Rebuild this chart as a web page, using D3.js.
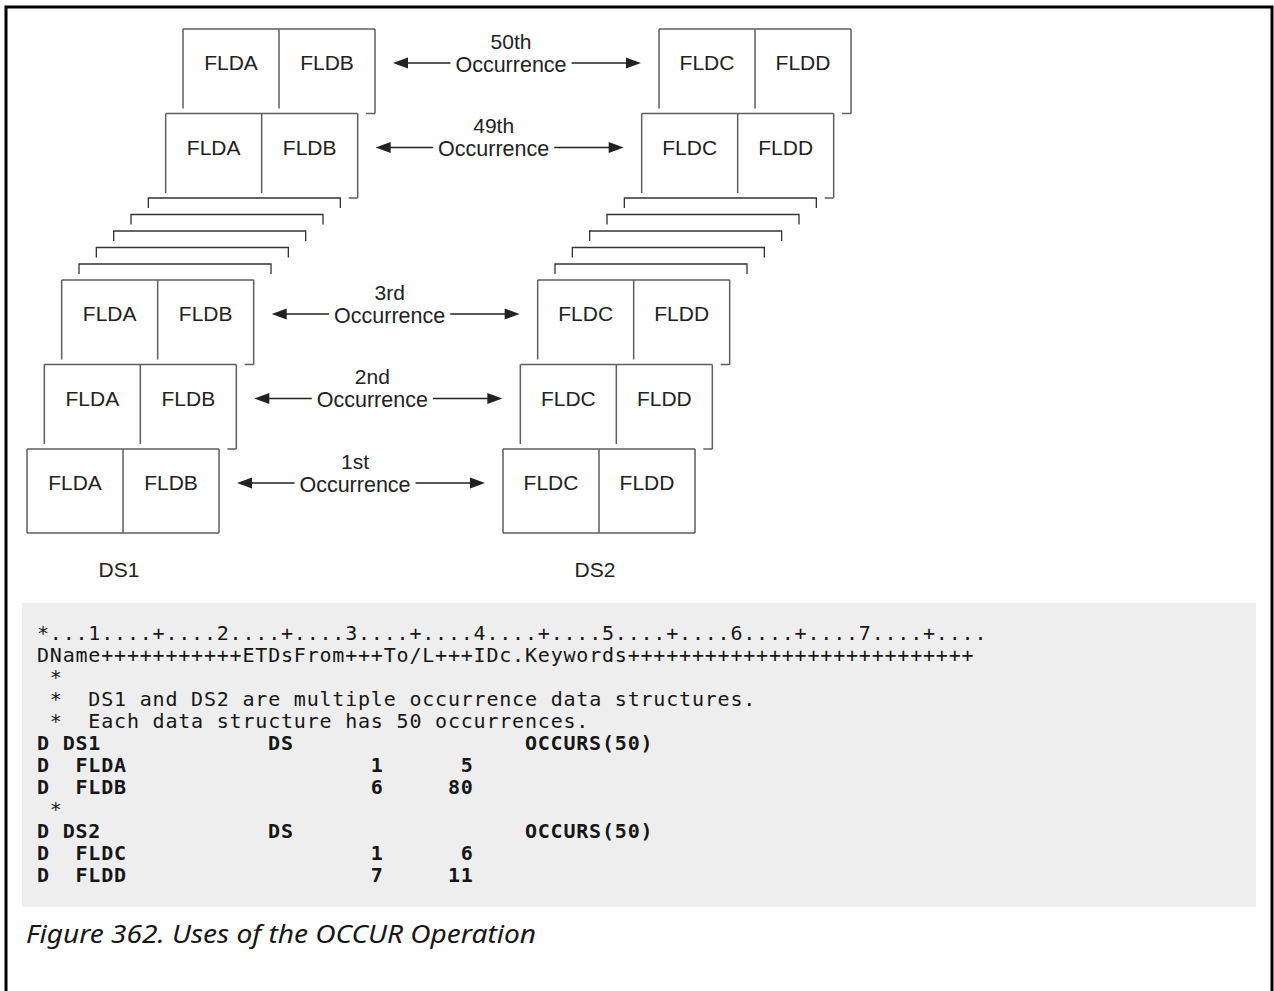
<!DOCTYPE html>
<html>
<head>
<meta charset="utf-8">
<script src="https://cdn.jsdelivr.net/npm/d3@7"></script>
<style>
  html, body { margin: 0; padding: 0; background: #ffffff; }
  svg { display: block; }
</style>
</head>
<body>
<div id="chart"></div>
<script>
// ---------- data ----------
const structures = ["DS1", "DS2"];
const ds1Fields = ["FLDA", "FLDB"];
const ds2Fields = ["FLDC", "FLDD"];
const occurrenceLabels = ["1st", "2nd", "3rd", "49th", "50th"];
const occurrenceDepth = [0, 1, 2, 8, 9];      // stacking depth of each drawn occurrence
const hiddenDepth = [3, 4, 5, 6, 7];          // occurrences shown only as stacked edges

const codeRuler = "*...1....+....2....+....3....+....4....+....5....+....6....+....7....+....";
const codeHeader = "DName+++++++++++ETDsFrom+++To/L+++IDc.Keywords+++++++++++++++++++++++++++";
const commentTexts = ["", "DS1 and DS2 are multiple occurrence data structures.", "Each data structure has 50 occurrences."];
const specNames = ["DS1", "FLDA", "FLDB", "DS2", "FLDC", "FLDD"];
const specIsStructure = [true, false, false, true, false, false];
const specType = ["DS", "", "", "DS", "", ""];
const specFrom = ["", "1", "6", "", "1", "7"];
const specTo = ["", "5", "80", "", "6", "11"];
const specKeywords = ["OCCURS(50)", "", "", "OCCURS(50)", "", ""];
const caption = "Figure 362. Uses of the OCCUR Operation";

// ---------- layout ----------
const W = 1274, H = 991;
const svg = d3.select("#chart").append("svg").attr("width", W).attr("height", H);

const boxW = 192, boxH = 84;
const x = d3.scaleLinear().domain([0, 9]).range([27, 183]);
const y = d3.scaleLinear().domain([0, 2, 3, 7, 9]).range([449, 280, 264, 198, 29]);
const structOffset = d3.scaleOrdinal().domain(structures).range([0, 476]);
const cell = d3.scaleBand().domain([0, 1]).range([0, boxW]);
const fieldsOf = { DS1: ds1Fields, DS2: ds2Fields };

const boxColor = "#5e5e5e";
const edgeColor = "#333";
const textColor = "#222";
const sans = "'Liberation Sans', Arial, Helvetica, sans-serif";

// frame
svg.append("path")
  .attr("d", `M6,${H + 5} V7 H1272 V${H + 5}`)
  .attr("fill", "none").attr("stroke", "#000").attr("stroke-width", 3);

const diagram = svg.append("g");

// hidden occurrences (stacked edges)
structures.forEach(s => {
  const g = diagram.append("g");
  hiddenDepth.forEach(d => {
    const l = x(d) + structOffset(s), t = y(d);
    g.append("path")
      .attr("d", `M${l},${t + 10} V${t} H${l + boxW} V${t + 10}`)
      .attr("fill", "none").attr("stroke", edgeColor).attr("stroke-width", 1.3);
  });
});

// drawn occurrences
structures.forEach(s => {
  occurrenceDepth.forEach(d => {
    const g = diagram.append("g");
    const l = x(d) + structOffset(s), t = y(d), r = l + boxW;
    const front = d === 0;
    const nextTop = front ? t + boxH : y(d - 1);
    const innerEnd = front ? t + boxH : nextTop - 5;
    const st = sel => sel.attr("fill", "none").attr("stroke", boxColor).attr("stroke-width", 1.5);
    st(g.append("line").attr("x1", l).attr("x2", r).attr("y1", t).attr("y2", t));
    [0, 1].forEach(i => {
      const xx = l + cell(i);
      st(g.append("line").attr("x1", xx).attr("x2", xx).attr("y1", t).attr("y2", innerEnd));
    });
    st(g.append("line").attr("x1", r).attr("x2", r).attr("y1", t).attr("y2", nextTop));
    if (front) {
      st(g.append("line").attr("x1", l).attr("x2", r).attr("y1", t + boxH).attr("y2", t + boxH));
    } else {
      st(g.append("line").attr("x1", r - 9).attr("x2", r).attr("y1", nextTop).attr("y2", nextTop));
    }
    fieldsOf[s].forEach((f, i) => {
      g.append("text")
        .attr("x", l + cell(i) + cell.bandwidth() / 2)
        .attr("y", t + 34)
        .attr("dy", "0.35em")
        .attr("text-anchor", "middle")
        .attr("font-family", sans).attr("font-size", 21)
        .attr("fill", textColor)
        .text(f);
    });
  });
});

// arrows with labels
occurrenceDepth.forEach((d, k) => {
  const g = diagram.append("g");
  const t = y(d);
  const ay = t + 34;
  const leftTip = x(d) + boxW + 18;
  const rightTip = x(d) + structOffset("DS2") - 18;
  const cx = (leftTip + rightTip) / 2 - 6;
  g.append("text")
    .attr("x", cx).attr("y", t + 12.5).attr("dy", "0.35em")
    .attr("text-anchor", "middle")
    .attr("font-family", sans).attr("font-size", 21).attr("fill", textColor)
    .text(occurrenceLabels[k]);
  const occ = g.append("text")
    .attr("x", cx).attr("y", ay + 1).attr("dy", "0.35em")
    .attr("text-anchor", "middle")
    .attr("font-family", sans).attr("font-size", 21.5).attr("fill", textColor)
    .text("Occurrence");
  const tw = occ.node().getComputedTextLength();
  const tl = cx - tw / 2 - 5, tr = cx + tw / 2 + 5;
  g.append("line").attr("x1", leftTip + 12).attr("x2", tl).attr("y1", ay).attr("y2", ay)
    .attr("stroke", textColor).attr("stroke-width", 1.3);
  g.append("line").attr("x1", tr).attr("x2", rightTip - 12).attr("y1", ay).attr("y2", ay)
    .attr("stroke", textColor).attr("stroke-width", 1.3);
  g.append("path").attr("d", `M${leftTip},${ay} L${leftTip + 15},${ay - 5.5} L${leftTip + 15},${ay + 5.5} Z`)
    .attr("fill", textColor);
  g.append("path").attr("d", `M${rightTip},${ay} L${rightTip - 15},${ay - 5.5} L${rightTip - 15},${ay + 5.5} Z`)
    .attr("fill", textColor);
});

// structure labels
structures.forEach(s => {
  diagram.append("text")
    .attr("x", x(0) + structOffset(s) + boxW / 2 - 4)
    .attr("y", 570).attr("dy", "0.35em")
    .attr("text-anchor", "middle")
    .attr("font-family", sans).attr("font-size", 21).attr("fill", textColor)
    .text(s);
});

// ---------- code block ----------
// each row: list of [column, text] segments
const rows = [];
rows.push({ bold: false, segs: [[0, codeRuler]] });
rows.push({ bold: false, segs: [[0, codeHeader]] });
commentTexts.forEach(c => rows.push({ bold: false, segs: [[1, "*"], [4, c]] }));
specNames.forEach((n, i) => {
  if (i === 3) rows.push({ bold: false, segs: [[1, "*"]] });
  const segs = [[0, "D"], [specIsStructure[i] ? 2 : 3, n]];
  if (specType[i]) segs.push([18, specType[i]]);
  if (specFrom[i]) segs.push([26 - specFrom[i].length + 1, specFrom[i]]);
  if (specTo[i]) segs.push([33 - specTo[i].length + 1, specTo[i]]);
  if (specKeywords[i]) segs.push([38, specKeywords[i]]);
  rows.push({ bold: true, segs });
});

const code = svg.append("g");
code.append("rect").attr("x", 22).attr("y", 603).attr("width", 1256 - 22).attr("height", 907 - 603)
  .attr("fill", "#eeeeee");
const lineY = d3.scaleLinear().domain([0, rows.length - 1]).range([640, 882]);
const col = d3.scaleLinear().domain([0, 74]).range([37, 37 + 74 * 12.84]);
rows.forEach((row, i) => {
  const t = code.append("text")
    .attr("y", lineY(i))
    .attr("font-family", "'DejaVu Sans Mono', 'Liberation Mono', monospace")
    .attr("font-size", 20)
    .attr("letter-spacing", 0.8)
    .attr("font-weight", row.bold ? "bold" : "normal")
    .attr("fill", "#161616");
  row.segs.forEach(([c, s]) => {
    if (!s) return;
    t.append("tspan").attr("x", col(c)).text(s);
  });
});

// caption
svg.append("text")
  .attr("x", 26).attr("y", 943)
  .attr("font-family", "'Noto Sans', 'Open Sans', sans-serif")
  .attr("font-style", "italic")
  .attr("font-size", 25)
  .attr("textLength", 510)
  .attr("lengthAdjust", "spacingAndGlyphs")
  .attr("fill", "#161616")
  .text(caption);
</script>
</body>
</html>
